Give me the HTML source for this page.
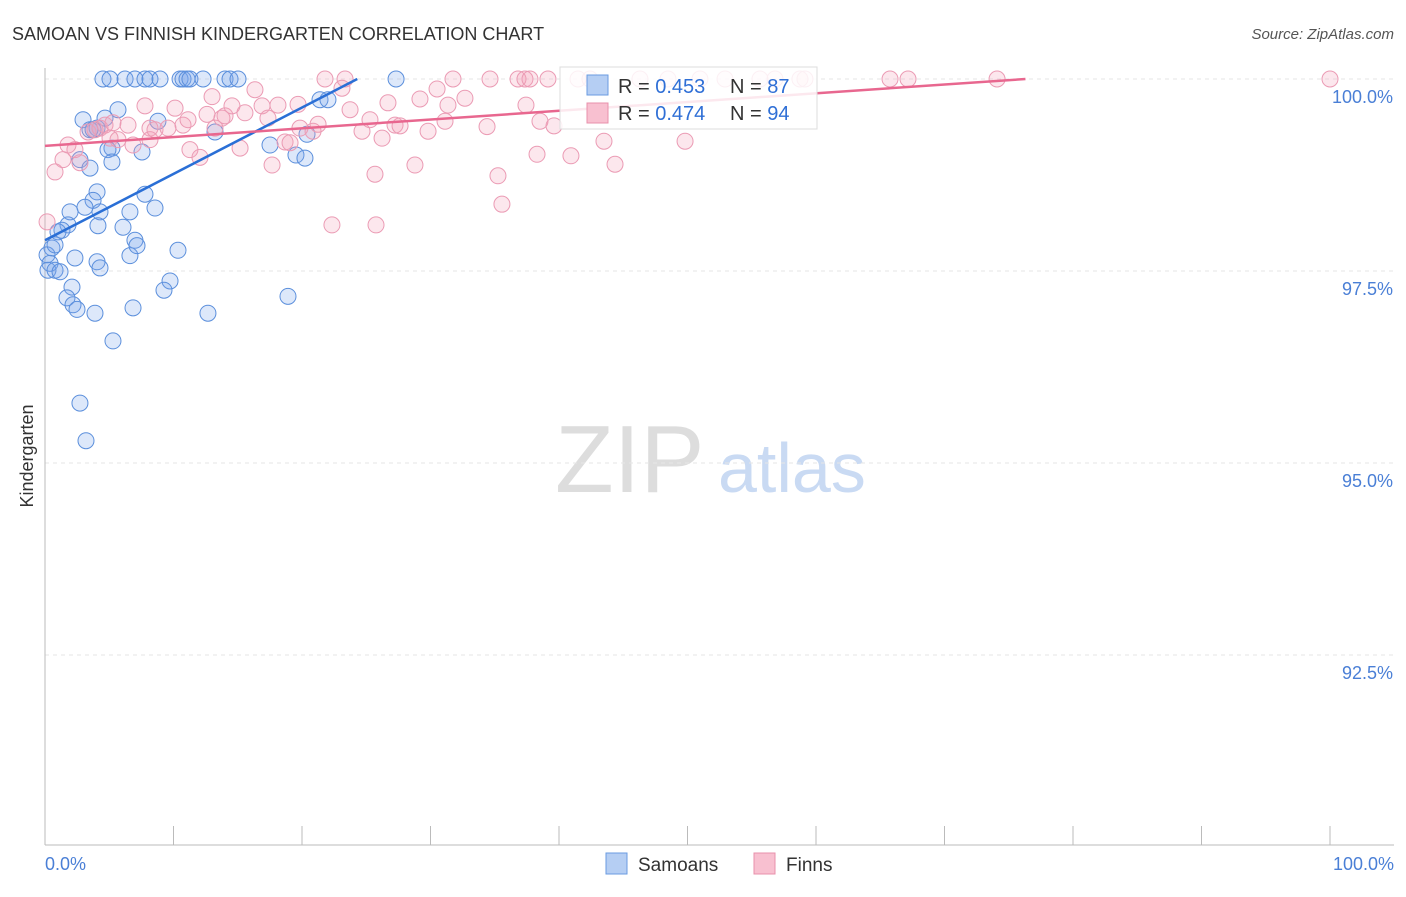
<!DOCTYPE html>
<html><head><meta charset="utf-8">
<style>
body{margin:0;background:#fff;font-family:"Liberation Sans",sans-serif}
svg text{font-family:"Liberation Sans",sans-serif}
</style></head>
<body>
<svg id="chart" width="1406" height="892" xmlns="http://www.w3.org/2000/svg">
<text x="12" y="40" font-size="18" fill="#333">SAMOAN VS FINNISH KINDERGARTEN CORRELATION CHART</text>
<text x="1394" y="39" font-size="15" fill="#555" font-style="italic" text-anchor="end">Source: ZipAtlas.com</text>
<text x="555" y="492" font-size="96" fill="#ddd" font-family="Liberation Serif">ZIP</text>
<text x="718" y="492" font-size="70" fill="#c9daf3">atlas</text>
<g id="grid"></g><g id="axes"></g><g id="pts"></g><g id="trend"></g>
<text transform="translate(33,456) rotate(-90)" font-size="18" fill="#333" text-anchor="middle">Kindergarten</text>
<text x="45" y="870" font-size="18" fill="#4a7fd6">0.0%</text>
<text x="1394" y="870" font-size="18" fill="#4a7fd6" text-anchor="end">100.0%</text>
<g>
<rect x="560" y="67" width="257" height="62" fill="#fff" fill-opacity="0.85" stroke="#ddd"/>
<rect x="587" y="75" width="21" height="20" fill="#b5cef3" stroke="#6a9be0"/>
<text x="618" y="93" font-size="20" fill="#333">R = <tspan fill="#2f6fd6">0.453</tspan></text>
<text x="730" y="93" font-size="20" fill="#333">N = <tspan fill="#2f6fd6">87</tspan></text>
<rect x="587" y="103" width="21" height="20" fill="#f8c0d0" stroke="#e890ab"/>
<text x="618" y="120" font-size="20" fill="#333">R = <tspan fill="#2f6fd6">0.474</tspan></text>
<text x="730" y="120" font-size="20" fill="#333">N = <tspan fill="#2f6fd6">94</tspan></text>
</g>
<g>
<rect x="606" y="853" width="21" height="21" fill="#b5cef3" stroke="#6a9be0"/>
<text x="638" y="871" font-size="19" fill="#333">Samoans</text>
<rect x="754" y="853" width="21" height="21" fill="#f8c0d0" stroke="#e890ab"/>
<text x="786" y="871" font-size="19" fill="#333">Finns</text>
</g>
</svg>
<script>
const yTicks=[100,97.5,95,92.5];
const yTickLabels=["100.0%","97.5%","95.0%","92.5%"];
const xTicks=[0,10,20,30,40,50,60,70,80,90,100];
const samoanX=[4.51,5.06,6.23,7.00,7.78,8.17,8.95,10.51,10.74,11.05,11.28,12.30,14.01,14.40,15.02,27.32,2.96,4.05,5.68,4.67,8.79,13.23,17.51,20.39,21.40,22.02,2.72,3.50,3.74,5.21,4.90,7.55,19.53,20.23,5.21,3.50,4.05,3.74,3.11,1.95,4.28,6.61,8.56,7.78,6.07,4.12,1.79,1.32,1.01,0.54,0.16,0.39,0.23,0.78,1.17,2.33,4.05,4.28,6.61,7.00,7.16,10.35,9.73,9.26,2.10,1.71,2.18,2.49,3.89,6.85,12.68,18.91,5.29,2.72,3.19,0.78];
const samoanY=[100,100,100,100,100,100,100,100,100,100,100,100,100,100,100,100,99.47,99.36,99.60,99.49,99.45,99.31,99.14,99.28,99.73,99.73,98.95,99.34,99.34,99.10,99.08,99.05,99.01,98.97,98.92,98.84,98.53,98.42,98.33,98.27,98.27,98.27,98.32,98.50,98.07,98.09,98.10,98.03,98.01,97.80,97.71,97.60,97.51,97.51,97.49,97.67,97.62,97.54,97.70,97.90,97.83,97.77,97.37,97.25,97.29,97.15,97.06,97.00,96.95,97.02,96.95,97.17,96.59,95.78,95.29,97.84];
const finnX=[21.79,23.35,31.75,34.63,36.81,37.35,37.74,39.14,41.48,42.41,46.30,48.48,50.97,52.92,55.64,56.81,58.75,59.14,65.76,67.16,74.09,100,0.78,1.40,2.33,1.79,2.72,3.35,3.89,4.28,4.67,5.06,5.29,5.68,6.46,6.85,7.78,8.17,8.17,8.56,9.57,10.12,10.74,11.13,11.28,12.06,12.61,13.00,13.23,13.77,14.01,14.55,15.18,15.56,16.34,16.89,17.35,17.67,18.13,18.68,19.07,19.69,19.84,20.86,21.25,22.33,23.11,23.74,24.67,25.29,25.68,25.76,26.23,26.69,27.24,27.63,28.79,29.18,29.81,30.51,31.13,31.36,32.68,34.40,35.25,35.56,37.43,38.29,38.52,39.61,40.93,43.50,44.36,49.81,0.16];
const finnY=[100,100,100,100,100,100,100,100,100,100,100,100,100,100,100,100,100,100,100,100,100,100,98.79,98.95,99.08,99.14,98.91,99.31,99.34,99.36,99.40,99.23,99.43,99.21,99.40,99.14,99.65,99.36,99.21,99.34,99.36,99.62,99.40,99.47,99.08,98.98,99.54,99.77,99.36,99.49,99.52,99.65,99.10,99.56,99.86,99.65,99.49,98.88,99.66,99.18,99.17,99.67,99.36,99.32,99.41,98.10,99.88,99.60,99.32,99.47,98.76,98.10,99.23,99.69,99.40,99.39,98.88,99.74,99.32,99.87,99.45,99.66,99.75,99.38,98.74,98.37,99.66,99.02,99.45,99.39,99.00,99.19,98.89,99.19,98.14];
const samoanTrend=[[0,97.90],[24.3,100]];
const finnTrend=[[0,99.13],[76.3,100]];
const X=v=>45+v*12.85, Y=v=>79+(100-v)*76.8;
const NS="http://www.w3.org/2000/svg";
function mk(tag,attrs,parent){const e=document.createElementNS(NS,tag);for(const k in attrs)e.setAttribute(k,attrs[k]);document.getElementById(parent).appendChild(e);return e;}
yTicks.forEach((t,i)=>{
  const l=mk('line',{x1:45,x2:1394,y1:Y(t),y2:Y(t),stroke:'#e6e6e6','stroke-dasharray':'4,4'},'grid');
  
  
  const tx=mk('text',{x:1393,y:Y(t)+24,'font-size':18,fill:'#4a7fd6','text-anchor':'end'},'grid');
  tx.textContent=yTickLabels[i];
  
  
});
const ya=mk('line',{x1:45,x2:45,y1:68,y2:845,stroke:'#bbb'},'axes');


const xa=mk('line',{x1:45,x2:1394,y1:845,y2:845,stroke:'#bbb'},'axes');


xTicks.forEach(t=>{
  const l=mk('line',{x1:X(t),x2:X(t),y1:826,y2:845,stroke:'#bbb'},'axes');
  
  
});
samoanX.forEach((v,i)=>{
  const c=mk('circle',{cx:X(v),cy:Y(samoanY[i]),r:8,fill:'rgba(120,165,235,0.25)',stroke:'#5b8fdc','stroke-width':1},'pts');
  
  
});
finnX.forEach((v,i)=>{
  const c=mk('circle',{cx:X(v),cy:Y(finnY[i]),r:8,fill:'rgba(245,160,185,0.25)',stroke:'#eb9bb4','stroke-width':1},'pts');
  
  
});
const tb=mk('line',{x1:X(samoanTrend[0][0]),y1:Y(samoanTrend[0][1]),x2:X(samoanTrend[1][0]),y2:Y(samoanTrend[1][1]),stroke:'#2a6fd6','stroke-width':2.5},'trend');


const tp=mk('line',{x1:X(finnTrend[0][0]),y1:Y(finnTrend[0][1]),x2:X(finnTrend[1][0]),y2:Y(finnTrend[1][1]),stroke:'#e8678f','stroke-width':2.5},'trend');


</script>
</body></html>
